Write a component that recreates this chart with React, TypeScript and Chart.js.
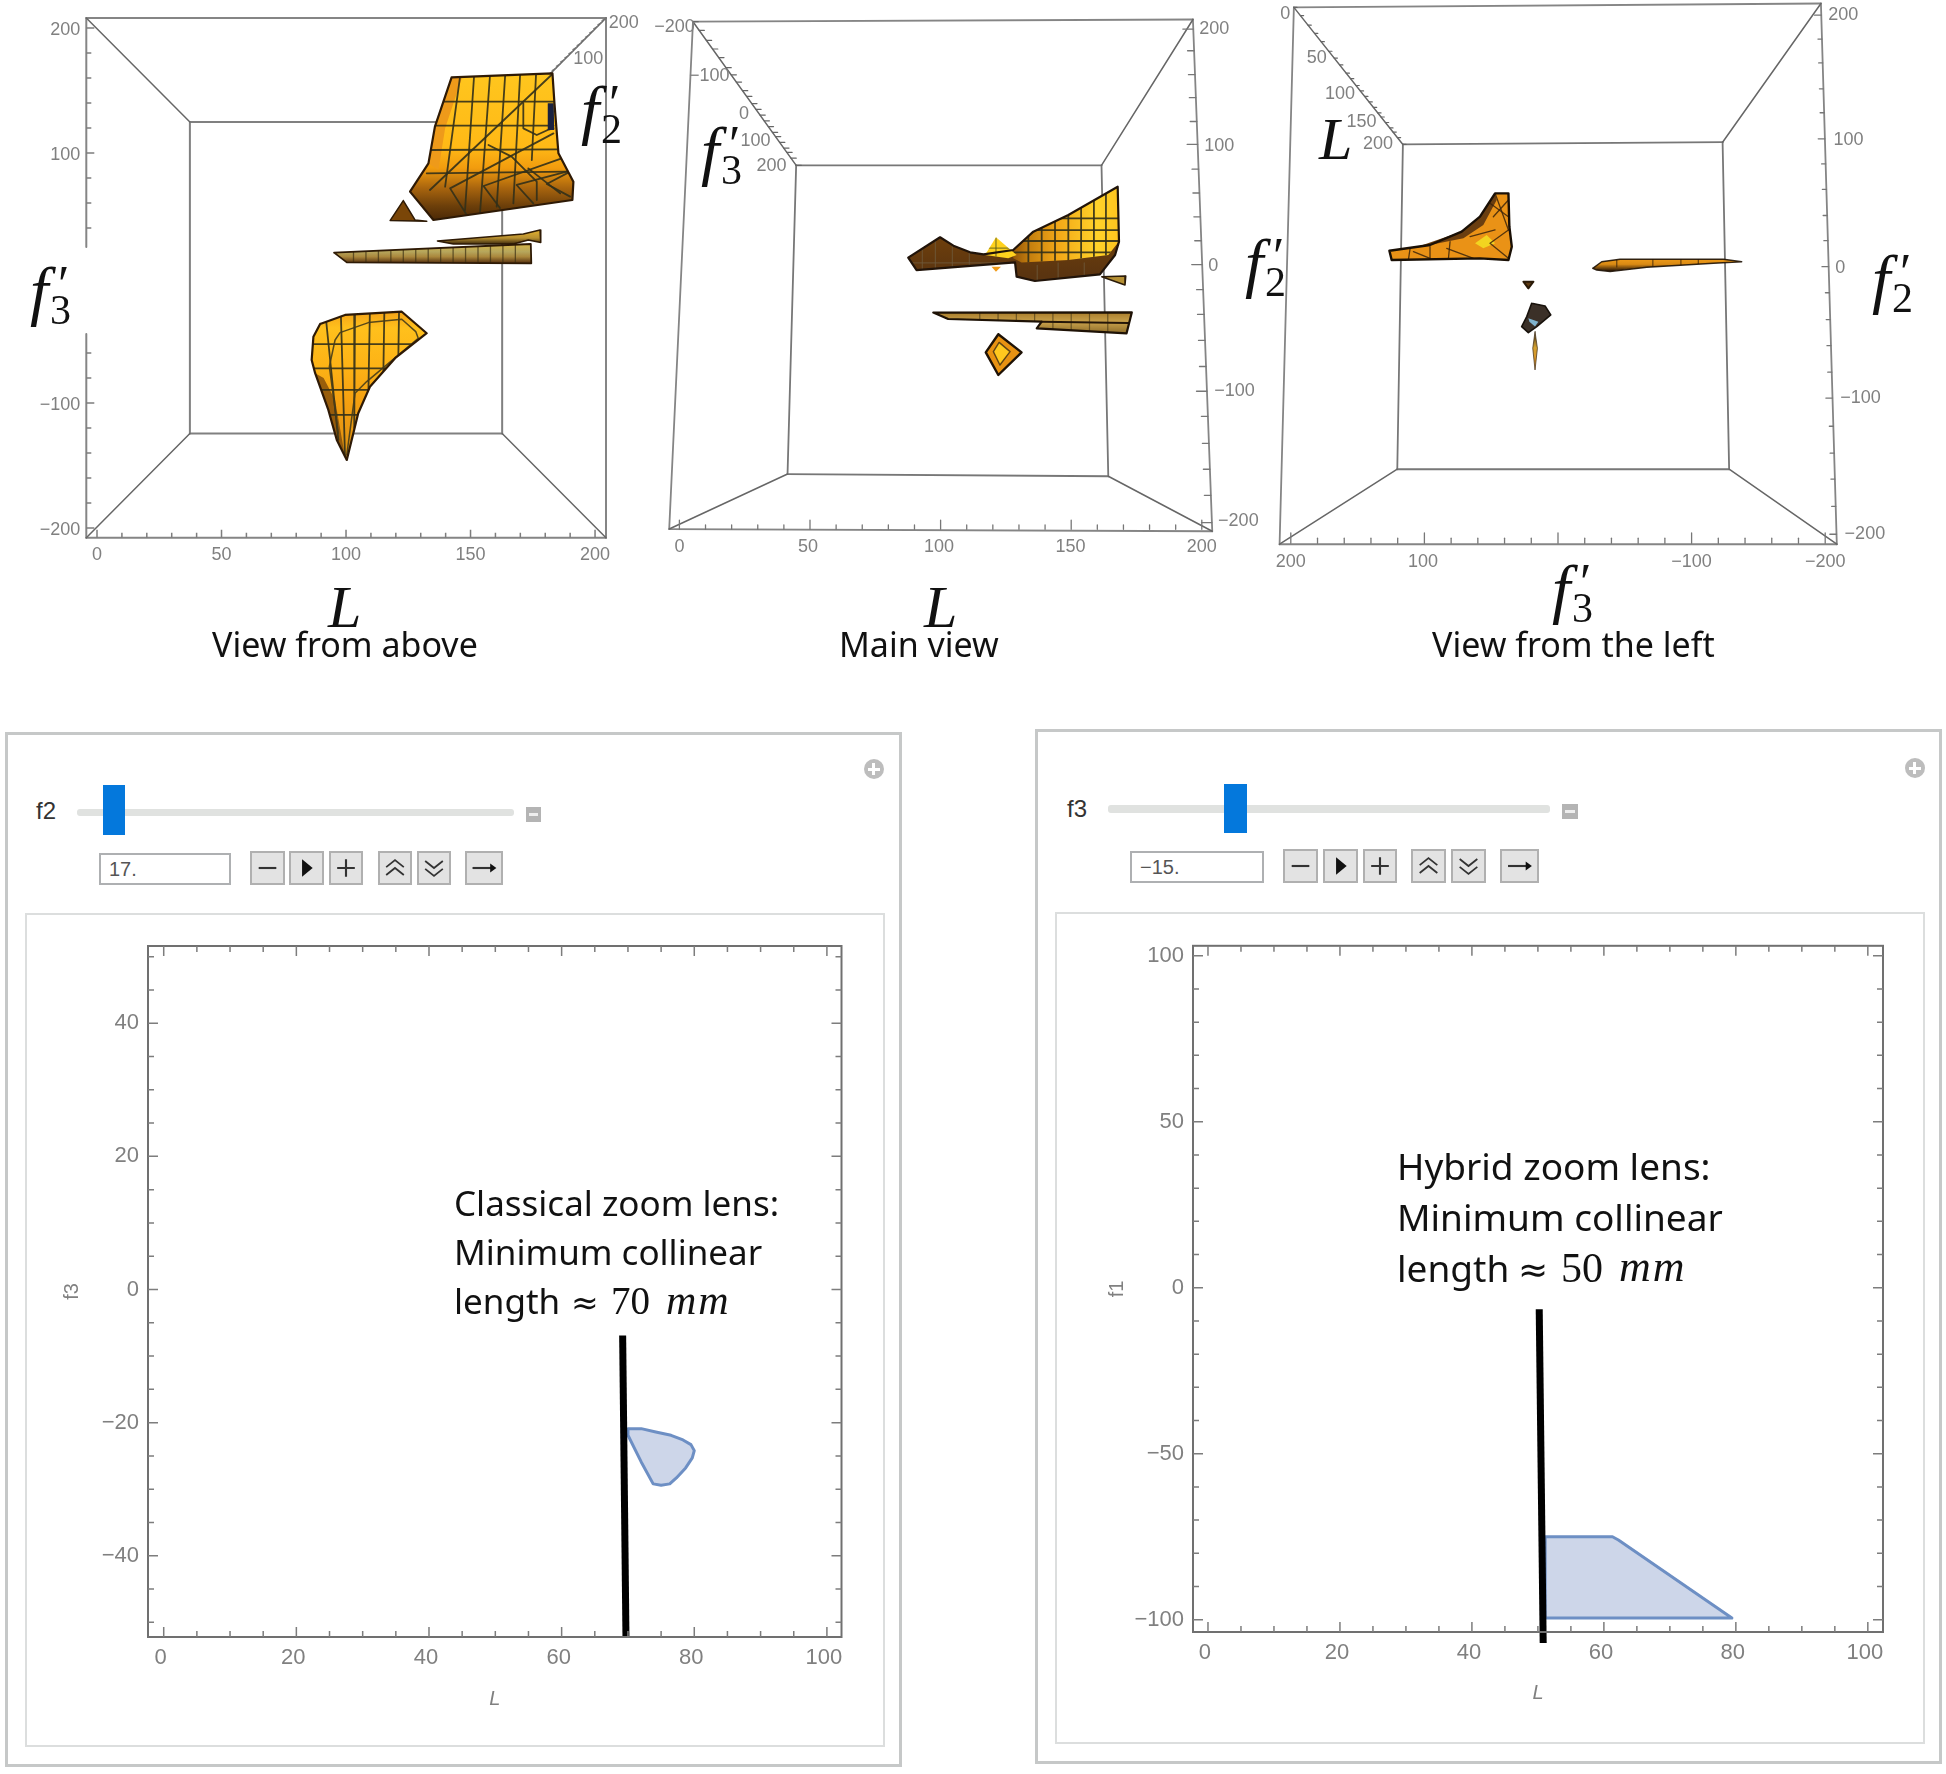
import React, { useEffect, useRef } from "react";
import { Chart, registerables } from "chart.js";

Chart.register(...registerables);

type P = [number, number];

// ---------- View from above: L (x), f3' (y) ----------
const aboveXLabels = [0, 50, 100, 150, 200];
const aboveYLabels = [-200, -100, 100, 200];
const aboveXTicks = [0,10,20,30,40,50,60,70,80,90,100,110,120,130,140,150,160,170,180,190,200];
const aboveYTicks = [-200,-180,-160,-140,-120,-100,-80,-60,40,60,80,100,120,140,160,180,200];
const aboveUpper: P[] = [[142.4,160.5],[182.9,163.7],[183.7,139.7],[185.3,99.7],[191.3,77],[190.9,62.4],[135.1,46.4],[125.7,69.1],[133.1,91.7],[135.7,121.1]];
const aboveUpperBand: P[] = [[142.4,160.5],[146.5,159.7],[139.8,119.7],[137.1,86.4],[133.1,91.7],[135.7,121.1]];
const aboveUpperGrid: P[][] = [
  [[145.8,161],[139.8,73]],[[151.4,161],[147.8,54.4]],[[157.8,161.6],[153.8,51.7]],[[163.9,162.1],[160.5,57.1]],[[169.9,162.4],[167.2,59.7]],[[176.3,162.7],[174.6,94.4]],
  [[137.1,141.1],[183.3,141.1]],[[135.7,121.9],[183.3,121.9]],[[133.7,102.4],[186,102.9]],[[132.4,83.7],[188.6,85.1]],
  [[182.9,163.2],[133.7,70.4]],
  [[183.3,115.7],[141.8,71.7],[148.5,50.4]],[[186.6,95.7],[155.2,73.6],[161.8,56]],[[188.6,85.1],[168.5,74.4],[175.2,59.7]],[[190,85.1],[180.6,75.2],[190,65.1]],
  [[157.2,106.4],[166.5,97.1],[176.6,77],[176.6,62.4]],[[173.2,87.7],[186,67.7]],
  [[171.2,139.7],[171.2,119.7],[176.6,114.4],[181,118.4],[183.3,119.7]],
];
const aboveBlueRect: P[] = [[181,139.7],[183.4,139.7],[183.6,118.4],[181,118.4]];
const aboveTriangle: P[] = [[123,61.9],[127.7,46.4],[132.4,45.3],[117.7,45.9]];
const aboveBar: P[] = [[95.2,20.3],[174.2,27.2],[174.4,11.7],[100.3,12.5]];
const aboveBarTicks = [103,108,113,118,123,128,133,138,143,148,153,158,163,168];
const aboveSliver: P[] = [[136.7,29.6],[171.2,35.2],[177.9,38.4],[178.2,28.3],[173.2,30.4],[167.2,27.2],[143.1,27.2]];
const aboveLower: P[] = [[89.6,-36.8],[99.6,-29.6],[122.4,-27],[132.4,-44.2],[119.7,-64.2],[109.6,-87],[104.9,-108.2],[100.3,-145.6],[96.3,-129.6],[92.9,-105.6],[87.6,-76.2],[86.2,-65.6],[86.9,-47]];
const aboveLowerEdge: P[] = [[87.6,-76.2],[92.9,-105.6],[96.3,-129.6],[99.6,-143],[95.6,-97.6],[91,-80]];
const aboveLowerGrid: P[][] = [
  [[91.8,-30],[96.9,-129.6]],[[97.9,-27],[99.6,-143]],[[103.6,-25],[103.3,-120]],[[109.6,-25],[109,-90]],[[115.4,-25],[115,-75]],[[121.3,-25],[121,-64]],
  [[80,-53],[135,-53]],[[80,-72.3],[135,-72.3]],[[80,-89.6],[135,-89.6]],[[80,-109.6],[135,-109.6]],
];
const aboveLowerContour: P[] = [[100.3,-141.6],[103.6,-92.3],[108.3,-82.9],[129,-48.3],[128,-42.9],[122.4,-33],[109,-35.7],[97.6,-43.7],[95.6,-49.6],[93.3,-70.9],[96.9,-124.3]];
const aboveDepthFractions = [0,0.04,0.08,0.12,0.16,0.2,0.24,0.28,0.32,0.36,0.4,0.44,0.48,0.52];

// ---------- Main view: L (x), f2' (y) ----------
const mainBottomTicks = [0,10,20,30,40,50,60,70,80,90,100,110,120,130,140,150,160,170,180,190,200];
const mainRightTicks = [200,182.4,163,144.3,124.9,106.3,86.2,66.8,47.4,28,8.6,-11.8,-31.9,-53,-74.2,-94.3,-114.7,-136.6,-157.7,-178.9,-201];
const mainDepthFractions = [0,0.06,0.13,0.19,0.25,0.32,0.37,0.42,0.48,0.52,0.57,0.61,0.65,0.69,0.73,0.77,0.8,0.84,0.88,0.91,0.95,1];
const mainBlob: P[] = [[87.6,14.3],[99.8,30.8],[104.9,24],[111.3,18.6],[116.4,16.9],[127.8,20.5],[135.5,35.4],[148.9,48.9],[167.8,71.9],[168.3,27.3],[166.8,16.4],[161,0.7],[136.1,-4.7],[129.1,-1.2],[128.5,10.4],[90.8,4.2]];
const mainBright: P[] = [[127.8,19.7],[135.5,35.4],[148.9,48.9],[167.8,71.9],[168.3,27.3],[164.2,16.4],[148.9,12.4],[131,10.4],[127.8,13.7]];
const mainBrightGrid: P[][] = [
  [[133.6,60],[133.6,8]],[[138.7,60],[138.7,8]],[[143.8,60],[143.8,8]],[[148.9,60],[148.9,8]],[[153.8,70],[153.8,8]],[[158.7,70],[158.7,8]],[[163.3,75],[163.3,8]],
  [[125,46.2],[170,46.2]],[[125,36.7],[170,36.7]],[[125,27.8],[170,27.8]],[[125,18.6],[170,18.6]],
];
const mainDarkGrid: P[][] = [
  [[93,30],[93,0]],[[98,30],[98,0]],[[104.5,30],[104.5,0]],[[111,30],[111,0]],[[137,8],[137,-6]],[[145,10],[145,-6]],[[155,10],[155,-6]],[[85,10],[128,10]],
];
const mainDiamondTop: P[] = [[121.2,30.8],[129.1,16.4],[125.9,13.7],[117,16.4]];
const mainDiamondTip: P[] = [[119.5,6.9],[123.1,6.9],[121.2,2.9]];
const mainWedge: P[] = [[161.7,-1.2],[170.9,-0.6],[170.6,-8]];
const mainBars: P[] = [[97.2,-30.4],[173.2,-30.2],[171.2,-47.2],[136.8,-43.2],[138.7,-37.8],[102.9,-35.6]];
const mainBarGap: P[] = [[138.7,-37.8],[172,-38.8]];
const mainBarTicks = [115,122,129,136,143,150,157,164];
const mainKite: P[] = [[122.1,-48],[131,-62.7],[122.1,-81.1],[117.3,-62.7]];
const mainKiteInner: P[] = [[122.4,-54.6],[126.6,-62.1],[122.7,-73],[120.2,-62.1]];

// ---------- View from the left: f3' (x), f2' (y) ----------
const leftBottomTicks = [200,180,160,140,120,100,80,60,40,20,0,-20,-40,-60,-80,-100,-120,-140,-160,-180,-200];
const leftRightTicks = [200,181.6,163.2,143.2,124.8,104.7,85.4,65.7,45.6,26.2,6.2,-13.9,-34.6,-54.7,-75.1,-95.1,-116.8,-137.5,-157.5,-178.6,-200];
const leftWing: P[] = [[126.2,18.5],[95.8,22.9],[72.1,33.2],[58.4,44.7],[47.1,62.7],[37.1,62.7],[36.4,37],[34.6,21.6],[37.1,11.3],[58.4,12.6],[124.5,11.3]];
const leftWingBand: P[] = [[108.2,20.3],[72.1,33.2],[58.4,44.7],[47.1,62.7],[45.9,57.6],[55.9,38.3],[70.8,28]];
const leftWingPatch: P[] = [[62.1,24.2],[53.4,30.6],[47.1,24.2],[55.9,20.3]];
const leftWingLines: P[][] = [
  [[110.7,20.3],[112,11.3]],[[95.8,21.6],[95.8,12.6]],[[80.8,25.5],[82,12.6]],[[108.2,17.8],[95.8,12.6]],[[83.3,20.3],[63.3,12.6]],
  [[47.1,62.7],[37.1,34.5]],[[37.1,57.6],[48.4,44.7]],[[50.9,55],[37.1,44.7]],[[37.1,34.5],[50.9,24.2],[37.1,12.6]],[[65.8,29.3],[47.1,34.5]],
];
const leftSliver: P[] = [[-26,4.9],[-32.7,10],[-46.4,11.9],[-123.8,11.9],[-137.5,10],[-116.3,8.8],[-66.4,5.7],[-39,2.4],[-29,3.6]];
const leftSliverLines: P[][] = [[[-44,12],[-44,6]],[[-71,12],[-71,6]],[[-92,12],[-92,7]],[[-105,12],[-105,8]]];
const leftSpeck: P[] = [[25.9,-5.4],[18.4,-5.4],[22.2,-10.5]];
const leftRock: P[] = [[19.7,-22],[9.7,-24.1],[5.4,-31],[15.9,-40],[22.2,-44.7],[27.2,-40],[23.4,-32.3]];
const leftRockPatch: P[] = [[22.2,-33.6],[14.7,-36.2],[17.2,-40],[21.4,-36.2]];
const leftNeedle: P[] = [[17.2,-43.9],[15.4,-56.7],[17.2,-73.4],[18.9,-56.7]];

// ---------- Classical zoom lens: L (x), f3 (y) ----------
const classicXLabels = [0, 20, 40, 60, 80, 100];
const classicYLabels = [-40, -20, 0, 20, 40];
const classicXTicks = [0,5,10,15,20,25,30,35,40,45,50,55,60,65,70,75,80,85,90,95,100];
const classicYTicks = [-50,-45,-40,-35,-30,-25,-20,-15,-10,-5,0,5,10,15,20,25,30,35,40,45,50];
const classicRegion: P[] = [[70,-20.9],[72,-20.9],[74.2,-21.4],[76.5,-21.9],[78.3,-22.6],[79.5,-23.3],[80,-24.2],[79.7,-25.3],[78.7,-26.8],[77.3,-28.3],[76.3,-29.2],[75,-29.4],[73.8,-29.2],[72,-25.9],[70,-21.9]];
const classicLength: P[] = [[69.2,-6.9],[69.7,-52.2]];

// ---------- Hybrid zoom lens: L (x), f1 (y) ----------
const hybridXLabels = [0, 20, 40, 60, 80, 100];
const hybridYLabels = [-100, -50, 0, 50, 100];
const hybridXTicks = [0,5,10,15,20,25,30,35,40,45,50,55,60,65,70,75,80,85,90,95,100];
const hybridYTicks = [-100,-90,-80,-70,-60,-50,-40,-30,-20,-10,0,10,20,30,40,50,60,70,80,90,100];
const hybridRegion: P[] = [[51.1,-75],[61.3,-75],[62.2,-76],[79.4,-99.5],[51.1,-99.5]];
const hybridLength: P[] = [[50.2,-6.5],[50.8,-107]];

const GRAY = "#808080";
const SANS = '"Liberation Sans", Arial, sans-serif';
const SERIF = '"Liberation Serif", serif';
const UI = '"Noto Sans", sans-serif';
const fmt = (v: number) => (v < 0 ? "\u2212" + Math.abs(v) : String(v));
const pts = (a: P[]) => a.map(([x, y]) => ({ x, y }));

const base = { showLine: true, pointRadius: 0, pointHitRadius: 0, tension: 0, clip: false, borderJoinStyle: "round", borderCapStyle: "round" };
const line = (a: P[], color: string, width: number, extra: any = {}) => ({ ...base, data: pts(a), borderColor: color, borderWidth: width, fill: false, ...extra });
const close = (a: P[]): P[] => [...a, a[0]];
const solid = (a: P[], bg: any) => ({ ...base, data: pts(close(a)), borderColor: "rgba(0,0,0,0)", borderWidth: 0, fill: "shape", backgroundColor: bg });
const ring = (a: P[], color: string, width: number) => line(close(a), color, width);

const vGrad = (stops: [number, string][]) => (c: any) => {
  const s = c.chart.scales.y;
  const v0 = stops[0][0], v1 = stops[stops.length - 1][0];
  const p0 = s ? s.getPixelForValue(v0) : NaN, p1 = s ? s.getPixelForValue(v1) : NaN;
  if (!Number.isFinite(p0) || !Number.isFinite(p1)) return stops[0][1];
  const g = c.chart.ctx.createLinearGradient(0, p0, 0, p1);
  stops.forEach(([v, col]) => g.addColorStop((v - v0) / (v1 - v0), col));
  return g;
};
const hGrad = (stops: [number, string][]) => (c: any) => {
  const s = c.chart.scales.x;
  const v0 = stops[0][0], v1 = stops[stops.length - 1][0];
  const p0 = s ? s.getPixelForValue(v0) : NaN, p1 = s ? s.getPixelForValue(v1) : NaN;
  if (!Number.isFinite(p0) || !Number.isFinite(p1)) return stops[0][1];
  const g = c.chart.ctx.createLinearGradient(p0, 0, p1, 0);
  stops.forEach(([v, col]) => g.addColorStop((v - v0) / (v1 - v0), col));
  return g;
};

const GRID = "rgba(50,48,26,0.9)";
const gridOf = (lines: P[][], clipTo: P[], color = GRID, width = 1.8) => lines.map((l) => line(l, color, width, { clipTo }));

const polyClip = {
  id: "polyClip",
  beforeDatasetDraw(chart: any, args: any) {
    const poly = chart.data.datasets[args.index].clipTo;
    if (!poly) return;
    const { ctx, scales } = chart;
    ctx.save();
    ctx.beginPath();
    poly.forEach(([x, y]: P, i: number) => {
      const px = scales.x.getPixelForValue(x), py = scales.y.getPixelForValue(y);
      if (i) ctx.lineTo(px, py); else ctx.moveTo(px, py);
    });
    ctx.closePath();
    ctx.clip();
  },
  afterDatasetDraw(chart: any, args: any) {
    if (chart.data.datasets[args.index].clipTo) chart.ctx.restore();
  },
};
Chart.register(polyClip);

const labelPlugin = (items: [string, number, number][]) => ({
  id: "axisLabels",
  afterDraw(chart: any) {
    const { ctx, scales } = chart;
    ctx.save();
    ctx.font = `18px ${SANS}`;
    ctx.fillStyle = GRAY;
    ctx.textAlign = "center";
    ctx.textBaseline = "middle";
    items.forEach(([t, x, y]) => ctx.fillText(t, scales.x.getPixelForValue(x), scales.y.getPixelForValue(y)));
    ctx.restore();
  },
});

const tickPlugin = (o: { x: number[]; y: number[]; xMajor: number[]; yMajor: number[]; all: boolean; long: number; short: number }) => ({
  id: "inwardTicks",
  afterDraw(chart: any) {
    const { ctx, scales, chartArea: a } = chart;
    ctx.save();
    ctx.strokeStyle = "#7d7d7d";
    ctx.lineWidth = 1.5;
    ctx.beginPath();
    o.x.forEach((v) => {
      const p = scales.x.getPixelForValue(v), l = o.xMajor.includes(v) ? o.long : o.short;
      ctx.moveTo(p, a.bottom); ctx.lineTo(p, a.bottom - l);
      if (o.all) { ctx.moveTo(p, a.top); ctx.lineTo(p, a.top + l); }
    });
    o.y.forEach((v) => {
      const p = scales.y.getPixelForValue(v), l = o.yMajor.includes(v) ? o.long : o.short;
      ctx.moveTo(a.left, p); ctx.lineTo(a.left + l, p);
      if (o.all) { ctx.moveTo(a.right, p); ctx.lineTo(a.right - l, p); }
    });
    ctx.stroke();
    ctx.restore();
  },
});

const frame3d = (o: P[], i: P[]) => [
  ...o.map((c, k) => line([c, o[(k + 1) % 4]], "#858585", 1.8)),
  ...i.map((c, k) => line([c, i[(k + 1) % 4]], "#777777", 1.8)),
  ...o.map((c, k) => line([c, i[k]], "#666666", 1.5)),
];
const lerp = (a: P, b: P, t: number): P => [a[0] + (b[0] - a[0]) * t, a[1] + (b[1] - a[1]) * t];

// ---- dataset lists (paint order) ----
const aboveDatasets = () => {
  const A = { tl: [-4.3, 208] as P, tr: [204.4, 208] as P, br: [204.4, -207.8] as P, bl: [-4.3, -207.8] as P };
  const inner: P[] = [[37.3, 124.8], [162.7, 124.8], [162.7, -124.5], [37.3, -124.5]];
  return [
    line([A.tl, A.tr], "#858585", 2), line([A.tr, A.br], "#858585", 2), line([A.br, A.bl], "#858585", 2),
    line([A.tl, [-4.3, 24.8]], "#858585", 2), line([[-4.3, -44.8], A.bl], "#858585", 2),
    ...inner.map((c, k) => line([c, inner[(k + 1) % 4]], "#808080", 2)),
    line([A.tl, inner[0]], "#666", 1.5), line([A.tr, inner[1]], "#666", 1.5), line([A.br, inner[2]], "#666", 1.5), line([A.bl, inner[3]], "#666", 1.5),
    ...aboveDepthFractions.map((t) => { const p = lerp(A.tr, inner[1], t); return line([p, [p[0] - 1.6, p[1] - 2]], "#777", 1.2); }),
    solid(aboveUpper, vGrad([[163, "#ffc61e"], [105, "#ffb916"], [88, "#f29c0e"], [72, "#a9650e"], [58, "#6e400a"], [46, "#4a2806"]])),
    solid(aboveUpperBand, "#ee9a1a"),
    ...gridOf(aboveUpperGrid, aboveUpper),
    solid(aboveBlueRect, "#1a2240"),
    ring(aboveUpper, "#2e1a06", 2.2),
    solid(aboveTriangle, "#7a4608"), ring(aboveTriangle, "#2e1a05", 1.5),
    solid(aboveSliver, vGrad([[38, "#e0b030"], [32, "#b89030"], [27, "#3a280c"]])), ring(aboveSliver, "#2e1a05", 1.5),
    solid(aboveBar, vGrad([[27, "#d8b648"], [21, "#b6a65c"], [17, "#aa873c"], [12, "#573210"]])),
    ...gridOf(aboveBarTicks.map((v): P[] => [[v, 30], [v, 10]]), aboveBar, "rgba(60,48,20,0.7)", 1.3),
    ring(aboveBar, "#2e1a05", 1.8),
    solid(aboveLower, vGrad([[-27, "#f4a318"], [-40, "#ffc01c"], [-70, "#fdb316"], [-100, "#f49f10"], [-145, "#dc9012"]])),
    solid(aboveLowerEdge, "rgba(120,70,10,0.75)"),
    ...gridOf(aboveLowerGrid, aboveLower),
    line(aboveLowerContour, "rgba(70,60,25,0.9)", 1.5),
    ring(aboveLower, "#2e1a06", 2.2),
  ];
};

const mainDatasets = () => {
  const o: P[] = [[5.2, 206], [196.6, 207.8], [204, -208.1], [-3.9, -206.3]];
  const i: P[] = [[44.7, 89.3], [161.6, 89.3], [164.2, -163.4], [41.4, -161.6]];
  return [
    ...frame3d(o, i),
    ...mainBottomTicks.map((v) => line([[v, -206.5], [v, v % 50 === 0 ? -199 : -203]], "#777", 1.3)),
    ...mainRightTicks.map((f, k) => { const x = 196.6 + ((207.8 - f) / 415.9) * 7.4; return line([[x, f], [x - (k % 5 === 0 ? 4 : 2.5), f]], "#777", 1.3); }),
    ...mainDepthFractions.map((t) => { const p = lerp(o[0], i[0], t); return line([p, [p[0] + 2, p[1]]], "#666", 1.2); }),
    solid(mainBlob, vGrad([[31, "#6e3f0c"], [0, "#5a3410"]])),
    ...gridOf(mainDarkGrid, mainBlob, "rgba(110,90,60,0.7)", 1.2),
    solid(mainBright, hGrad([[127, "#8e5209"], [134, "#c47e0e"], [145, "#f2a818"], [160, "#ffd22a"], [168, "#ffc41e"]])),
    ...gridOf(mainBrightGrid, mainBright),
    solid(mainDiamondTop, "#ffd21e"), solid(mainDiamondTip, "#f09a18"),
    ...gridOf([[[121.2, 31], [121.2, 13]], [[117, 22], [129, 22]]], mainDiamondTop, "rgba(90,90,30,0.7)", 1.3),
    ring(mainBlob, "#21140a", 2.2),
    solid(mainWedge, "#b59034"), ring(mainWedge, "#2a1a08", 1.5),
    solid(mainBars, vGrad([[-30, "#a97c2a"], [-38, "#c9a24c"], [-47, "#8e6d2a"]])),
    ...gridOf(mainBarTicks.map((v): P[] => [[v, -28], [v, -50]]), mainBars, "rgba(60,48,20,0.6)", 1.2),
    line(mainBarGap, "#241608", 2),
    ring(mainBars, "#1e1206", 2.2),
    solid(mainKite, "#e89212"), solid(mainKiteInner, "#ffc81e"),
    ring(mainKiteInner, "rgba(70,50,20,0.85)", 1.4),
    ring(mainKite, "#1e1206", 2.4),
  ];
};

const leftDatasets = () => {
  const o: P[] = [[197.7, 206], [-196.8, 209], [-208.7, -207.7], [208.4, -207.7]];
  const i: P[] = [[116.1, 100.4], [-123.2, 102.1], [-128.1, -149.9], [120.3, -149.9]];
  return [
    ...frame3d(o, i),
    ...leftBottomTicks.map((v) => line([[v, -207], [v, v % 100 === 0 ? -199 : -203]], "#777", 1.3)),
    ...leftRightTicks.map((f, k) => { const x = -196.8 - ((209 - f) / 416.7) * 11.9; return line([[x, f], [x + (k % 5 === 0 ? 5 : 3), f]], "#777", 1.3); }),
    ...mainDepthFractions.map((t) => { const p = lerp(o[0], i[0], t); return line([p, [p[0] - 2.4, p[1]]], "#666", 1.2); }),
    solid(leftWing, "#ea9216"),
    solid(leftWingBand, "#6a3e10"),
    solid(leftWingPatch, "#f2d420"),
    ...gridOf(leftWingLines, leftWing, "rgba(60,36,10,0.85)", 1.3),
    ring(leftWing, "#1a1006", 2.4),
    solid(leftSliver, vGrad([[12, "#ee9a18"], [8, "#d98a14"], [3, "#2a1808"]])),
    ...gridOf(leftSliverLines, leftSliver, "rgba(60,36,10,0.8)", 1.1),
    ring(leftSliver, "rgba(30,18,6,0.9)", 1.4),
    solid(leftSpeck, "#5e3a12"),
    ring(leftSpeck, "#2a1a08", 2),
    solid(leftRock, "#3b3028"), ring(leftRock, "#18120c", 1.6), solid(leftRockPatch, "#7fb2cc"),
    solid(leftNeedle, vGrad([[-44, "#3a2a14"], [-56, "#d2a030"], [-73, "#e08c20"]])),
    ring(leftNeedle, "rgba(60,40,16,0.7)", 1),
  ];
};

const regionStyle = { backgroundColor: "#cdd6e9", borderColor: "#6d8fc4", borderWidth: 3, fill: "shape" };

type Rect = { x: number; y: number; w: number; h: number };

const noScalePad = (s: any) => { s.paddingTop = 0; s.paddingBottom = 0; s.paddingLeft = 0; s.paddingRight = 0; };

const fixedAxes = (o: any) => ({
  x: {
    type: "linear", min: o.xMin, max: o.xMax,
    grid: { display: false, drawTicks: false }, border: { display: false },
    afterFit: (s: any) => { s.height = o.xAxisH; noScalePad(s); },
    afterBuildTicks: (s: any) => { s.ticks = o.xLabels.map((value: number) => ({ value })); },
    ticks: { autoSkip: false, maxRotation: 0, padding: o.xPad, labelOffset: o.xShift || 0, color: GRAY, font: { family: SANS, size: o.font }, callback: (v: number) => fmt(v) },
    title: o.xTitle ? { display: true, text: o.xTitle, color: GRAY, font: { family: SANS, size: 20, style: "italic" }, padding: 0 } : { display: false },
  },
  y: {
    type: "linear", min: o.yMin, max: o.yMax,
    grid: { display: false, drawTicks: false }, border: { display: false },
    afterFit: (s: any) => { s.width = o.yAxisW; noScalePad(s); },
    afterBuildTicks: (s: any) => { s.ticks = o.yLabels.map((value: number) => ({ value })); },
    ticks: { autoSkip: false, padding: o.yPad, labelOffset: o.yShift || 0, color: GRAY, font: { family: SANS, size: o.font }, callback: (v: number) => fmt(v) },
    title: o.yTitle ? { display: true, text: o.yTitle, color: GRAY, font: { family: SANS, size: 20 }, padding: 0 } : { display: false },
  },
});

const boxPlugin = {
  id: "boxFrame",
  afterDraw(chart: any) {
    const { ctx, chartArea: a } = chart;
    ctx.save();
    ctx.strokeStyle = "#707070";
    ctx.lineWidth = 2;
    ctx.strokeRect(a.left, a.top, a.right - a.left, a.bottom - a.top);
    ctx.restore();
  },
};

const common = { responsive: false, animation: false, events: [] as string[] };
const noLegend = { legend: { display: false }, tooltip: { enabled: false }, title: { display: false } };

const rects: Record<string, Rect> = {
  above: { x: 30, y: 0, w: 610, h: 575 },
  main: { x: 655, y: 0, w: 605, h: 575 },
  left: { x: 1265, y: 0, w: 635, h: 575 },
  classic: { x: 60, y: 930, w: 810, h: 781 },
  hybrid: { x: 1105, y: 930, w: 805, h: 775 },
};

const makeAll = (cv: HTMLCanvasElement[]) => {
  const charts: Chart[] = [];
  const paint = (d: any[]) => d.map((ds, k) => ({ ...ds, order: d.length - k }));

  // view from above
  charts.push(new Chart(cv[0], {
    type: "scatter",
    data: { datasets: paint(aboveDatasets()) },
    options: {
      ...common,
      layout: { autoPadding: false, padding: { top: 18, right: 34, left: 0, bottom: 0 } },
      plugins: noLegend,
      scales: fixedAxes({ xMin: -4.3, xMax: 204.4, yMin: -207.8, yMax: 208, xLabels: aboveXLabels, yLabels: aboveYLabels, xAxisH: 37.3, yAxisW: 56.3, xPad: 7, yPad: 6, yShift: 2, font: 18 }),
    } as any,
    plugins: [
      tickPlugin({ x: aboveXTicks, y: aboveYTicks, xMajor: aboveXLabels, yMajor: aboveYLabels, all: false, long: 8, short: 5 }),
      labelPlugin([["200", 211.5, 204.3], ["100", 197.3, 175.5]]),
    ],
  } as any));

  // main view
  const mr: Rect = rects.main;
  charts.push(new Chart(cv[1], {
    type: "scatter",
    data: { datasets: paint(mainDatasets()) },
    options: {
      ...common,
      layout: { autoPadding: false },
      plugins: noLegend,
      scales: {
        x: { display: false, type: "linear", min: (mr.x - 679.4) / 2.612, max: (mr.x + mr.w - 679.4) / 2.612 },
        y: { display: false, type: "linear", min: (275.2 - mr.y - mr.h) / 1.2305, max: (275.2 - mr.y) / 1.2305 },
      },
    } as any,
    plugins: [labelPlugin([
      ["0", 0, -221.1], ["50", 49.2, -221.1], ["100", 99.4, -221.1], ["150", 149.7, -221.1], ["200", 200, -221.1],
      ["200", 204.8, 200], ["100", 206.7, 105.2], ["0", 204.4, 7.2], ["\u2212100", 212.5, -94.3], ["\u2212200", 214, -200],
      ["\u2212200", -1.9, 201.8], ["\u2212100", 11.4, 162], ["0", 24.7, 131.3], ["100", 29.1, 109], ["200", 35.3, 89],
    ])],
  } as any));

  // view from the left (x axis runs from +200 on the left to -200 on the right)
  const lr: Rect = rects.left;
  charts.push(new Chart(cv[2], {
    type: "scatter",
    data: { datasets: paint(leftDatasets()) },
    options: {
      ...common,
      layout: { autoPadding: false },
      plugins: noLegend,
      scales: {
        x: { display: false, type: "linear", reverse: true, min: (1558 - lr.x - lr.w) / 1.336, max: (1558 - lr.x) / 1.336 },
        y: { display: false, type: "linear", min: (274.7 - lr.y - lr.h) / 1.2977, max: (274.7 - lr.y) / 1.2977 },
      },
    } as any,
    plugins: [labelPlugin([
      ["200", 200, -221.6], ["100", 101, -221.6], ["\u2212100", -100, -221.6], ["\u2212200", -200, -221.6],
      ["200", -213.5, 200], ["100", -217.4, 104], ["0", -211.3, 5.5], ["\u2212100", -226.5, -95], ["\u2212200", -229.7, -200],
      ["0", 204.2, 201], ["50", 180.6, 166.6], ["100", 163.2, 138.9], ["150", 147.1, 117.5], ["200", 134.8, 100.4],
    ])],
  } as any));

  // classical
  charts.push(new Chart(cv[3], {
    type: "scatter",
    data: {
      datasets: paint([
        { ...base, ...regionStyle, data: pts(close(classicRegion)) },
        line(classicLength, "#000", 7, { borderCapStyle: "butt" }),
      ]),
    },
    options: {
      ...common,
      layout: { autoPadding: false, padding: { top: 16, right: 28.5, left: 0, bottom: 0 } },
      plugins: noLegend,
      scales: fixedAxes({ xMin: -2.37, xMax: 102.2, yMin: -52.2, yMax: 51.6, xLabels: classicXLabels, yLabels: classicYLabels, xAxisH: 74, yAxisW: 88, xPad: 8, yPad: 9, xShift: -3, font: 22, xTitle: "L", yTitle: "f3" }),
    } as any,
    plugins: [boxPlugin, tickPlugin({ x: classicXTicks, y: classicYTicks, xMajor: classicXLabels, yMajor: classicYLabels, all: true, long: 10, short: 6 })],
  } as any));

  // hybrid
  charts.push(new Chart(cv[4], {
    type: "scatter",
    data: {
      datasets: paint([
        { ...base, ...regionStyle, data: pts(close(hybridRegion)) },
        line(hybridLength, "#000", 7, { borderCapStyle: "butt" }),
      ]),
    },
    options: {
      ...common,
      layout: { autoPadding: false, padding: { top: 15.8, right: 27, left: 0, bottom: 0 } },
      plugins: noLegend,
      scales: fixedAxes({ xMin: -2.27, xMax: 102.3, yMin: -103.7, yMax: 103, xLabels: hybridXLabels, yLabels: hybridYLabels, xAxisH: 73, yAxisW: 88, xPad: 8, yPad: 9, xShift: -3, font: 22, xTitle: "L", yTitle: "f1" }),
    } as any,
    plugins: [boxPlugin, tickPlugin({ x: hybridXTicks, y: hybridYTicks, xMajor: hybridXLabels, yMajor: hybridYLabels, all: true, long: 10, short: 6 })],
  } as any));
  return charts;
};

const abs = (x: number, y: number, w: number, h: number, extra: any = {}): any => ({ position: "absolute", left: x, top: y, width: w, height: h, boxSizing: "border-box", ...extra });

const Txt = ({ x, y, size, font = UI, color = "#111", italic = false, spacing = 0, children }: any) => (
  <div style={{ position: "absolute", left: x, top: y, fontFamily: font, fontSize: size, color, fontStyle: italic ? "italic" : "normal", letterSpacing: spacing, lineHeight: 1, whiteSpace: "pre" }}>{children}</div>
);

const MathF = ({ x, y, sub }: { x: number; y: number; sub: string }) => (
  <>
    <Txt x={x - 3} y={y - 2} size={66} font={SERIF} italic>f</Txt>
    <Txt x={x + 25} y={y - 1} size={52} font={SERIF}>{"\u2032"}</Txt>
    <Txt x={x + 17} y={y + 29} size={42} font={SERIF}>{sub}</Txt>
  </>
);

const Icon = ({ kind }: { kind: string }) => {
  const s = { stroke: "#333", strokeWidth: 2.4, fill: "none" };
  return (
    <svg width="100%" height="100%" viewBox="0 0 34 34" style={{ display: "block" }}>
      {kind === "minus" && <path d="M7 17H27" {...s} />}
      {kind === "plus" && <path d="M7 17H27M17 7V27" {...s} />}
      {kind === "play" && <path d="M12 7L24 17L12 27Z" fill="#111" />}
      {kind === "up" && <path d="M7 16L17 8L27 16M7 25L17 17L27 25" {...s} strokeWidth={2} />}
      {kind === "down" && <path d="M7 9L17 17L27 9M7 18L17 26L27 18" {...s} strokeWidth={2} />}
      {kind === "arrow" && <><path d="M4 17H26" {...s} /><path d="M24 12L31 17L24 22Z" fill="#111" /></>}
    </svg>
  );
};

const Controls = ({ label, value, c }: any) => (
  <>
    <Txt x={c.labelX} y={c.labelY} size={24} font={SANS} color="#333">{label}</Txt>
    <div style={abs(c.track[0], c.track[1], c.track[2], c.track[3], { background: "#e0e2e0", borderRadius: 3 })} />
    <div style={abs(c.thumb[0], c.thumb[1], c.thumb[2], c.thumb[3], { background: "#0478dc" })} />
    <div style={abs(c.stop[0], c.stop[1], c.stop[2], c.stop[3], { background: "#b4b4b4" })}>
      <div style={abs(c.stop[2] * 0.2, c.stop[3] * 0.42, c.stop[2] * 0.6, 3, { background: "#eee" })} />
    </div>
    <div style={abs(c.input[0], c.input[1], c.input[2], c.input[3], { border: "2px solid #aeb0b2", background: "#fff" })} />
    <Txt x={c.input[0] + 10} y={c.input[1] + 6} size={20} font={SANS} color="#555">{value}</Txt>
    {c.buttons.map(([x, w]: number[], i: number) => (
      <div key={i} style={abs(x, c.btnY, w, c.btnH, { background: "#e3e3e3", border: "2px solid #b0b0b0" })}>
        <Icon kind={["minus", "play", "plus", "up", "down", "arrow"][i]} />
      </div>
    ))}
    <div style={abs(c.plus[0] - 10, c.plus[1] - 10, 20, 20, { background: "#bdbdbd", borderRadius: 10 })}>
      <div style={abs(4, 8.5, 12, 3, { background: "#fff" })} />
      <div style={abs(8.5, 4, 3, 12, { background: "#fff" })} />
    </div>
  </>
);

const leftControls = {
  labelX: 36, labelY: 799,
  track: [77, 809, 437, 7], thumb: [103, 785, 22, 50], stop: [526, 807, 15, 15],
  input: [99, 853, 132, 32], btnY: 851, btnH: 34,
  buttons: [[250, 35], [289, 35], [329, 34], [378, 34], [417, 34], [465, 38]],
  plus: [873.5, 769],
};
const rightControls = {
  labelX: 1067, labelY: 797,
  track: [1108, 805, 442, 8], thumb: [1224, 784, 23, 49], stop: [1562, 804, 16, 15],
  input: [1130, 851, 134, 32], btnY: 849, btnH: 34,
  buttons: [[1283, 35], [1323, 35], [1363, 34], [1411, 35], [1451, 35], [1500, 39]],
  plus: [1914.5, 768],
};

const rectList = [rects.above, rects.main, rects.left, rects.classic, rects.hybrid];

export default function App() {
  const refs = useRef<(HTMLCanvasElement | null)[]>([]);
  useEffect(() => {
    const charts = makeAll(refs.current as HTMLCanvasElement[]);
    return () => charts.forEach((c) => c.destroy());
  }, []);
  return (
    <div style={{ position: "absolute", left: 0, top: 0, width: 1946, height: 1774, background: "#fff", overflow: "hidden", filter: "blur(0.6px)" }}>
      {/* panel boxes */}
      <div style={abs(5, 732, 897, 1035, { border: "3px solid #c6c8c8" })} />
      <div style={abs(25, 913, 860, 834, { border: "2px solid #dcdede" })} />
      <div style={abs(1035, 729, 907, 1035, { border: "3px solid #c6c8c8" })} />
      <div style={abs(1055, 912, 870, 832, { border: "2px solid #dcdede" })} />

      {rectList.map((r, i) => (
        <canvas key={i} ref={(el) => { refs.current[i] = el; }} width={r.w} height={r.h} style={{ position: "absolute", left: r.x, top: r.y, display: "block" }} />
      ))}

      {/* math axis names */}
      <Txt x={328} y={577} size={60} font={SERIF} italic>L</Txt>
      <Txt x={924} y={577} size={60} font={SERIF} italic>L</Txt>
      <Txt x={1319} y={109} size={60} font={SERIF} italic>L</Txt>
      <MathF x={33} y={260} sub="3" />
      <MathF x={584} y={79} sub="2" />
      <MathF x={704} y={120} sub="3" />
      <MathF x={1248} y={232} sub="2" />
      <MathF x={1875} y={248} sub="2" />
      <MathF x={1555} y={558} sub="3" />

      {/* captions */}
      <Txt x={212} y={627} size={34}>View from above</Txt>
      <Txt x={839} y={627} size={34}>Main view</Txt>
      <Txt x={1432} y={627} size={34}>View from the left</Txt>

      {/* controls */}
      <Controls label="f2" value="17." c={leftControls} />
      <Controls label="f3" value={"\u221215."} c={rightControls} />

      {/* annotations */}
      <Txt x={454} y={1185} size={35}>Classical zoom lens:</Txt>
      <Txt x={454} y={1234} size={35}>Minimum collinear</Txt>
      <Txt x={454} y={1283} size={35}>length</Txt>
      <Txt x={571} y={1286} size={33} font='"DejaVu Sans", sans-serif'>≈</Txt>
      <Txt x={611} y={1281.3} size={39} font={SERIF}>70</Txt>
      <Txt x={666} y={1278.8} size={42} font={SERIF} italic spacing={2}>mm</Txt>

      <Txt x={1397} y={1147} size={37}>Hybrid zoom lens:</Txt>
      <Txt x={1397} y={1198} size={37}>Minimum collinear</Txt>
      <Txt x={1397} y={1249} size={37}>length</Txt>
      <Txt x={1518} y={1252} size={36} font='"DejaVu Sans", sans-serif'>≈</Txt>
      <Txt x={1561} y={1246.8} size={42} font={SERIF}>50</Txt>
      <Txt x={1619} y={1245} size={44} font={SERIF} italic spacing={2}>mm</Txt>
    </div>
  );
}
